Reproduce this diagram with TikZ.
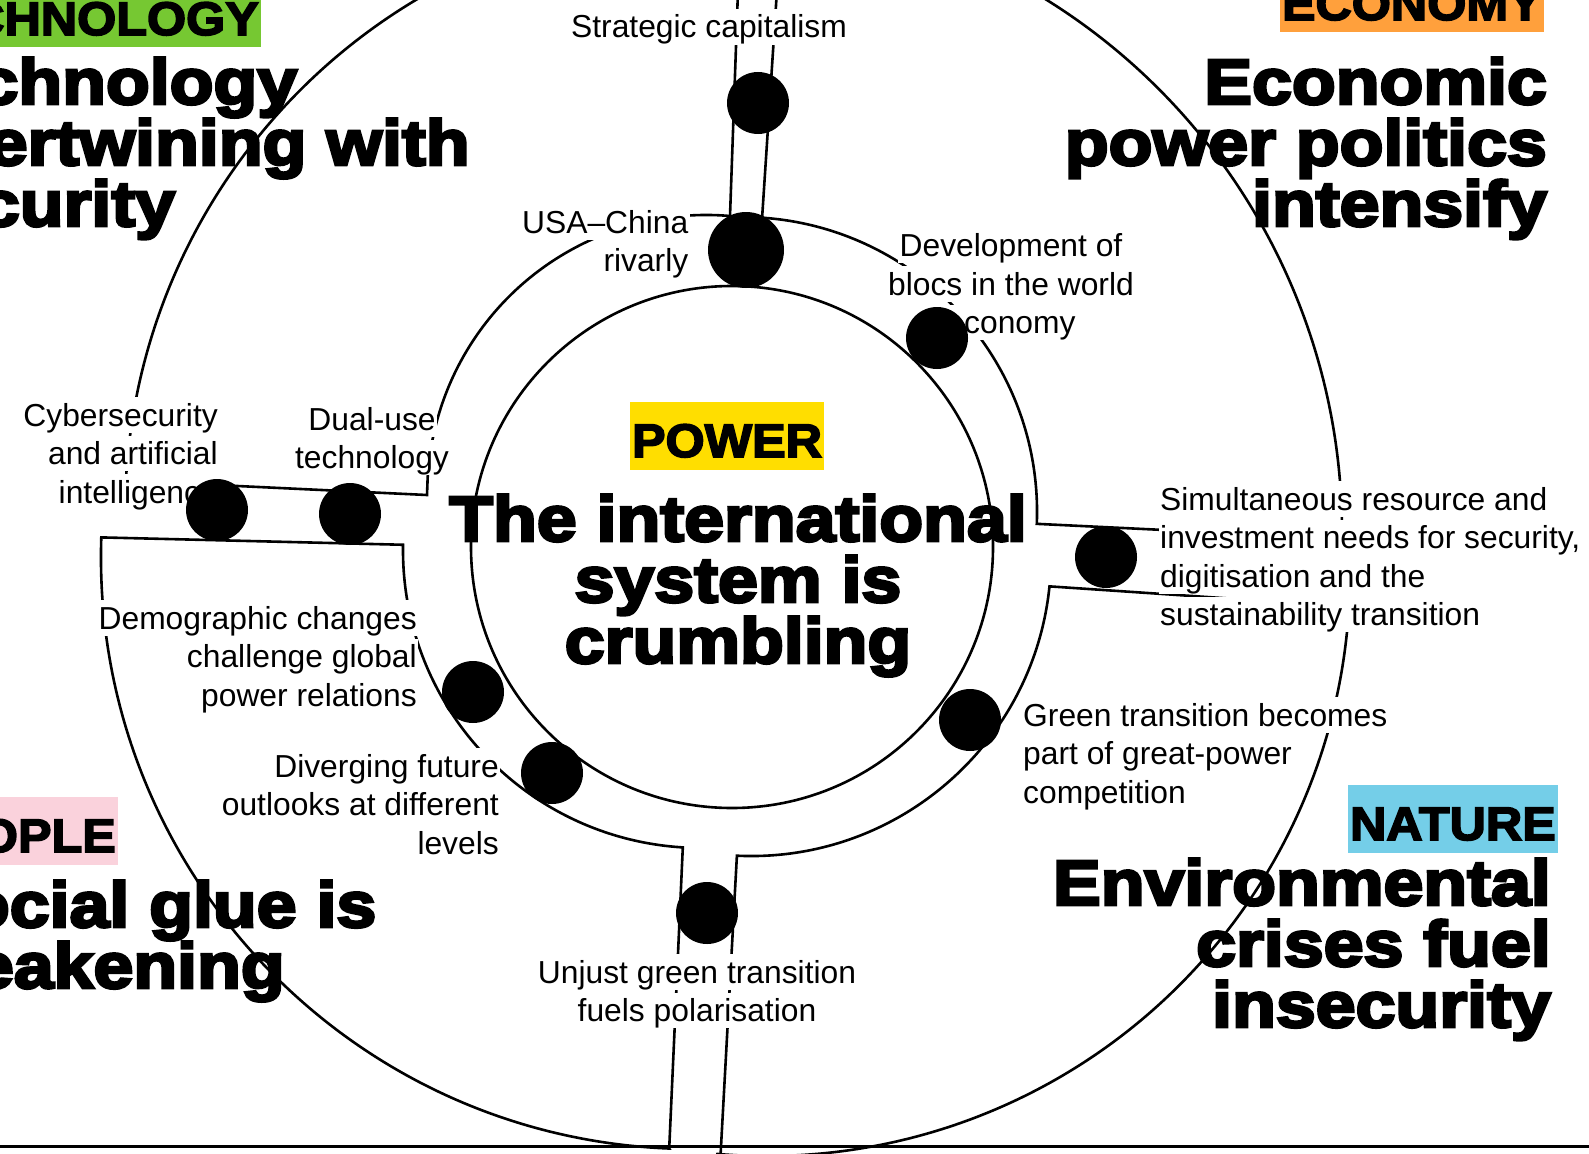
\documentclass[tikz,border=0pt]{standalone}
\usepackage{fontspec}
\setmainfont{Liberation Sans}
\newfontfamily\heavy{Liberation Sans Bold}[FakeBold=4.5,FakeStretch=1.12]
\newfontfamily\tagfont{Liberation Sans Bold}[FakeBold=3.5,FakeStretch=1.07]
\usepackage{xcolor}

\definecolor{techgreen}{RGB}{118,200,50}
\definecolor{econorange}{RGB}{255,160,60}
\definecolor{peoplepink}{RGB}{250,210,220}
\definecolor{naturebleu}{RGB}{116,206,232}
\definecolor{poweryellow}{RGB}{255,222,0}

% one white box per text line, so the rings only break under the words
\newcommand\wl[1]{{\setlength\fboxsep{0pt}\colorbox{white}{\rule[-6.8pt]{0pt}{35.7pt}\kern1.5pt#1\kern1.5pt}}}

\tikzset{
	edge/.style={black, line width=2.6pt},
	dot/.style={circle, fill=black, inner sep=0pt, minimum size=62pt},
	lbl/.style={inner sep=0pt, font=\fontsize{31.8}{38.5}\selectfont},
	head/.style={inner sep=0pt, font=\heavy\fontsize{64}{61}\selectfont},
	tag/.style={inner xsep=2pt, inner ysep=0pt, text height=55pt, text depth=12.5pt, font=\tagfont\fontsize{47}{47}\selectfont},
}

\begin{document}
\begin{tikzpicture}[x=1pt, y=-1pt]

\useasboundingbox (0,0) rectangle (1589,1153);
\clip (0,0) rectangle (1589,1153);

% inner circle
\draw[edge] (732,547) circle[radius=261];

% the four quarters: channel line, ring arc, channel line, outer arc
\draw[edge] (738,-10) -- (730,216)
	arc[start angle=-85.1, end angle=-176.7, radius=279] -- (427,495) -- (125.9,480.7)
	arc[start angle=-176.9, end angle=-116, radius=598];
\draw[edge] (777,-10) -- (762.1,217.7)
	arc[start angle=-86.1, end angle=2.3, radius=295] -- (1342,538.6)
	arc[start angle=0.6, end angle=-62, radius=627];
\draw[edge] (720,1165) -- (736.9,855.7)
	arc[start angle=92.7, end angle=5.8, radius=300] -- (1349,606.6)
	arc[start angle=3.3, end angle=95, radius=583];
\draw[edge] (669.2,1148.5) -- (682.8,847.4)
	arc[start angle=93.5, end angle=181, radius=298] -- (101.3,537.4)
	arc[start angle=181.9, end angle=92.3, radius=592] -- cycle;

\draw[line width=3pt] (0,1146) -- (1589,1146); % bottom rule

% labels (base = baseline of the last line)
\node[lbl, anchor=base] (strat) at (709,38) {\wl{Strategic capitalism}};
\node[lbl, align=right, anchor=base east] (usa) at (690,271.5) {\wl{USA–China}\\\wl{rivarly}};
\node[lbl, align=center, anchor=base] (blocs) at (1011,333.5) {\wl{Development of}\\\wl{blocs in the world}\\\wl{economy}};
\node[lbl, align=right, anchor=base east] (cyber) at (219.5,503) {\wl{Cybersecurity}\\\wl{and artificial}\\\wl{intelligence}};
\node[lbl, align=center, anchor=base] (dual) at (372,468.5) {\wl{Dual-use}\\\wl{technology}};
\node[lbl, align=right, anchor=base east] (demo) at (418.5,706) {\wl{Demographic changes}\\\wl{challenge global}\\\wl{power relations}};
\node[lbl, align=right, anchor=base east] (diverg) at (500.5,854) {\wl{Diverging future}\\\wl{outlooks at different}\\\wl{levels}};
\node[lbl, align=center, anchor=base] (unjust) at (697,1021.5) {\wl{Unjust green transition}\\\wl{fuels polarisation}};
\node[lbl, align=left, anchor=base west] (green) at (1021.5,803) {\wl{Green transition becomes}\\\wl{part of great-power}\\\wl{competition}};
\node[lbl, align=left, anchor=base west] (simul) at (1158.5,625.5) {\wl{Simultaneous resource and}\\\wl{investment needs for security,}\\\wl{digitisation and the}\\\wl{sustainability transition}};

% headings
\node[head, align=left, anchor=base west] (techhead) at (-100,226) {Technology\\intertwining with\\security};
\node[head, align=right, anchor=base east] (econhead) at (1547,226) {Economic\\power politics\\intensify};
\node[head, align=left, anchor=base west] (peoplehead) at (-82,988) {Social glue is\\weakening};
\node[head, align=right, anchor=base east] (naturehead) at (1551,1027) {Environmental\\crises fuel\\insecurity};
\node[head, align=center, anchor=base] (powerhead) at (738,663) {The international\\system is\\crumbling};

% tags
\node[tag, fill=techgreen, anchor=base east] (techtag) at (261,35) {TECHNOLOGY};
\node[tag, fill=econorange, anchor=base east] (econtag) at (1544,20) {ECONOMY};
\node[tag, fill=peoplepink, anchor=base east] (peopletag) at (118,852) {PEOPLE};
\node[tag, fill=naturebleu, anchor=base east] (naturetag) at (1558,840) {NATURE};
\node[tag, fill=poweryellow, anchor=base] (powertag) at (727,457) {POWER};

% dots
\foreach \n/\x/\y in {1/758/103, 3/937/338, 4/217/510, 5/350/514, 6/1106/557, 7/473/692, 8/552/773, 9/970/720, 10/707/913}
	\node[dot] (dot\n) at (\x,\y) {};
\node[dot, minimum size=76pt] (dot2) at (746,250) {};

\end{tikzpicture}
\end{document}
